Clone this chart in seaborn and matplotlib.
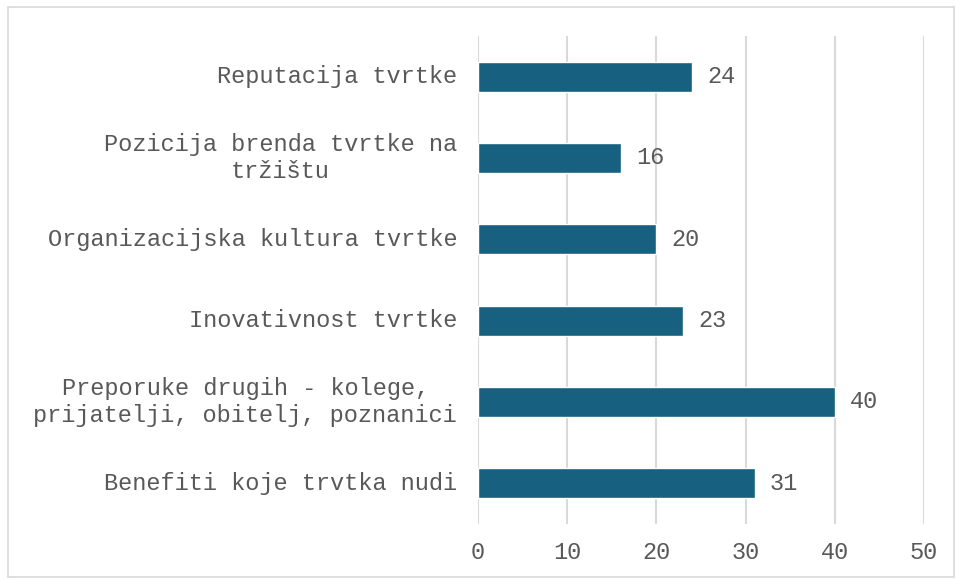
import matplotlib
matplotlib.use('Agg')
import matplotlib.pyplot as plt
import seaborn as sns
import pandas as pd
from matplotlib.patches import Rectangle

# data (top to bottom)
categories = [
    'Reputacija tvrtke',
    'Pozicija brenda tvrtke na\ntržištu',
    'Organizacijska kultura tvrtke',
    'Inovativnost tvrtke',
    'Preporuke drugih - kolege,\nprijatelji, obitelj, poznanici',
    'Benefiti koje trvtka nudi',
]
values = [24, 16, 20, 23, 40, 31]
x_ticks = [0, 10, 20, 30, 40, 50]

bar_color = '#17607F'
text_color = '#595959'
grid_color = '#D9D9D9'

sns.set_theme(style='white')
plt.rcParams['font.family'] = ['Liberation Mono', 'DejaVu Sans Mono']

df = pd.DataFrame({'category': categories, 'value': values})

fig = plt.figure(figsize=(9.56, 5.79), dpi=100)
ax = fig.add_axes([0.5, 0.095, 0.4665, 0.843])

sns.barplot(data=df, x='value', y='category', color=bar_color, width=0.37,
            saturation=1, ax=ax, zorder=3)

ax.set_xlim(0, 50)
ax.set_xticks(x_ticks)
ax.set_xlabel('')
ax.set_ylabel('')
for s in ax.spines.values():
    s.set_visible(False)
ax.grid(axis='x', color=grid_color, linewidth=1.5, zorder=0)
ax.grid(axis='y', visible=False)
ax.tick_params(axis='both', length=0, labelsize=17, colors=text_color, pad=12)
ax.tick_params(axis='y', pad=15)
for lbl in ax.get_yticklabels():
    lbl.set_multialignment('center')
    lbl.set_va('center')

for i, v in enumerate(values):
    ax.text(v + 1.7, i, str(v), va='center', ha='left', fontsize=17,
            color=text_color, zorder=4)

# thin grey frame around the whole chart
fig.patches.append(Rectangle((0.008, 0.004), 0.99, 0.984, transform=fig.transFigure,
                             fill=False, edgecolor='#D9D9D9', linewidth=1.2))

fig.savefig('out.png', dpi=100)
